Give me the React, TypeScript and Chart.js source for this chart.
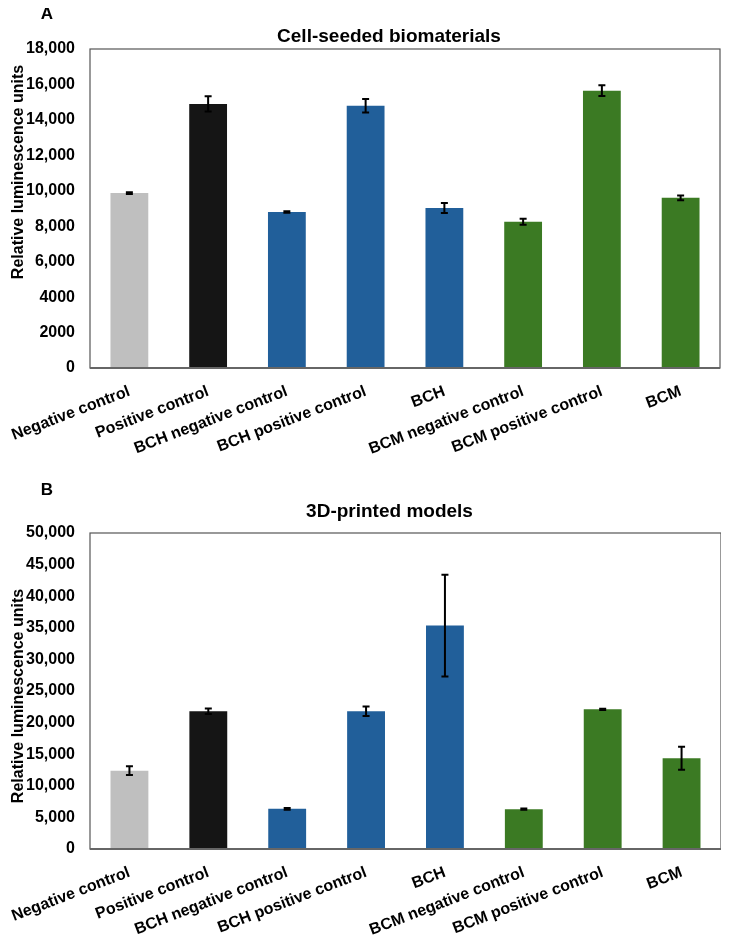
import React, { useEffect, useRef } from "react";
import { Chart, registerables } from "chart.js";

Chart.register(...registerables);

const categories = [
  "Negative control",
  "Positive control",
  "BCH negative control",
  "BCH positive control",
  "BCH",
  "BCM negative control",
  "BCM positive control",
  "BCM",
];

const barColors = [
  "#bfbfbf",
  "#151515",
  "#215f9a",
  "#215f9a",
  "#215f9a",
  "#3b7a23",
  "#3b7a23",
  "#3b7a23",
];

// panel A
const seededMeans = [9870, 14900, 8800, 14800, 9030, 8250, 15650, 9600];
const seededErrors = [50, 430, 40, 380, 280, 170, 300, 130];
const seededTicks = ["0", "2000", "4000", "6,000", "8,000", "10,000", "12,000", "14,000", "16,000", "18,000"];

// panel B
const printedMeans = [12400, 21800, 6350, 21800, 35350, 6300, 22100, 14350];
const printedErrors = [700, 450, 150, 750, 8050, 100, 100, 1830];
const printedTicks = ["0", "5,000", "10,000", "15,000", "20,000", "25,000", "30,000", "35,000", "40,000", "45,000", "50,000"];

const FONT = '"Liberation Sans", Arial, sans-serif';

interface PanelProps {
  letter: string;
  title: string;
  means: number[];
  errors: number[];
  ticks: string[];
  max: number;
  step: number;
  width: number;
  height: number;
  top: number;
  xHeight: number;
  padRight: number;
  titleY: number;
  letterY: number;
  yTitleY: number;
}

const Panel: React.FC<PanelProps> = (p) => {
  const canvasRef = useRef<HTMLCanvasElement | null>(null);

  useEffect(() => {
    if (!canvasRef.current) return;
    const ctx = canvasRef.current.getContext("2d");
    if (!ctx) return;

    const overlay = {
      id: "overlay",
      afterDatasetsDraw(chart: any) {
        const c = chart.ctx;
        const area = chart.chartArea;
        const xs = chart.scales.x;
        const ys = chart.scales.y;
        c.save();
        // error bars
        c.strokeStyle = "#000";
        c.lineWidth = 2;
        p.means.forEach((m, i) => {
          const x = xs.getPixelForValue(i);
          const y1 = ys.getPixelForValue(m + p.errors[i]);
          const y2 = ys.getPixelForValue(m - p.errors[i]);
          c.beginPath();
          c.moveTo(x, y1);
          c.lineTo(x, y2);
          c.moveTo(x - 3.5, y1);
          c.lineTo(x + 3.5, y1);
          c.moveTo(x - 3.5, y2);
          c.lineTo(x + 3.5, y2);
          c.stroke();
        });
        // frame
        c.strokeStyle = "#555";
        c.lineWidth = 1.2;
        c.strokeRect(area.left, area.top, area.right - area.left, area.bottom - area.top);
        c.lineWidth = 2;
        c.strokeStyle = "#666";
        c.beginPath();
        c.moveTo(area.left, area.bottom);
        c.lineTo(area.right, area.bottom);
        c.stroke();
        // texts
        c.fillStyle = "#000";
        c.textAlign = "center";
        c.textBaseline = "middle";
        c.font = `bold 17px ${FONT}`;
        c.fillText(p.letter, 39, p.letterY);
        c.font = `bold 19px ${FONT}`;
        c.fillText(p.title, (area.left + area.right) / 2 - 16, p.titleY);
        c.font = `bold 16px ${FONT}`;
        c.translate(11, p.yTitleY);
        c.rotate(-Math.PI / 2);
        c.fillText("Relative luminescence units", 0, 0);
        c.restore();
      },
    };

    const chart = new Chart(ctx, {
      type: "bar",
      data: {
        labels: categories,
        datasets: [
          {
            data: p.means,
            backgroundColor: barColors,
            barPercentage: 0.48,
            categoryPercentage: 1,
          },
        ],
      },
      options: {
        responsive: false,
        animation: false,
        layout: { padding: { left: 0, right: p.padRight, top: p.top, bottom: 0 } },
        plugins: {
          legend: { display: false },
          tooltip: { enabled: false },
        },
        scales: {
          x: {
            grid: { display: false },
            border: { display: false },
            ticks: {
              color: "#000",
              font: { family: FONT, size: 16, weight: "bold" },
              minRotation: 21,
              maxRotation: 21,
              padding: 6,
            },
            afterFit: (scale: any) => {
              scale.height = p.xHeight;
              scale.paddingLeft = 0;
              scale.paddingRight = 0;
            },
          },
          y: {
            min: 0,
            max: p.max,
            grid: { display: false, drawTicks: false },
            border: { display: false },
            ticks: {
              stepSize: p.step,
              color: "#000",
              padding: 15,
              font: { family: FONT, size: 16, weight: "bold" },
              callback: (_v: any, i: number) => p.ticks[i],
            },
            afterFit: (scale: any) => {
              scale.width = 82;
              scale.paddingTop = 0;
              scale.paddingBottom = 0;
            },
          },
        },
      },
      plugins: [overlay],
    });

    return () => {
      chart.destroy();
    };
  }, [p]);

  return <canvas ref={canvasRef} width={p.width} height={p.height} style={{ display: "block" }} />;
};

const panelA: PanelProps = {
  letter: "A",
  title: "Cell-seeded biomaterials",
  means: seededMeans,
  errors: seededErrors,
  ticks: seededTicks,
  max: 18000,
  step: 2000,
  width: 713,
  height: 472,
  top: 41,
  xHeight: 112,
  padRight: 1,
  titleY: 29,
  letterY: 6,
  yTitleY: 164,
};

const panelB: PanelProps = {
  letter: "B",
  title: "3D-printed models",
  means: printedMeans,
  errors: printedErrors,
  ticks: printedTicks,
  max: 50000,
  step: 5000,
  width: 713,
  height: 458,
  top: 53,
  xHeight: 89,
  padRight: 0,
  titleY: 32,
  letterY: 10,
  yTitleY: 216,
};

export default function App() {
  return (
    <div style={{ width: 713 }}>
      <Panel {...panelA} />
      <Panel {...panelB} />
    </div>
  );
}
